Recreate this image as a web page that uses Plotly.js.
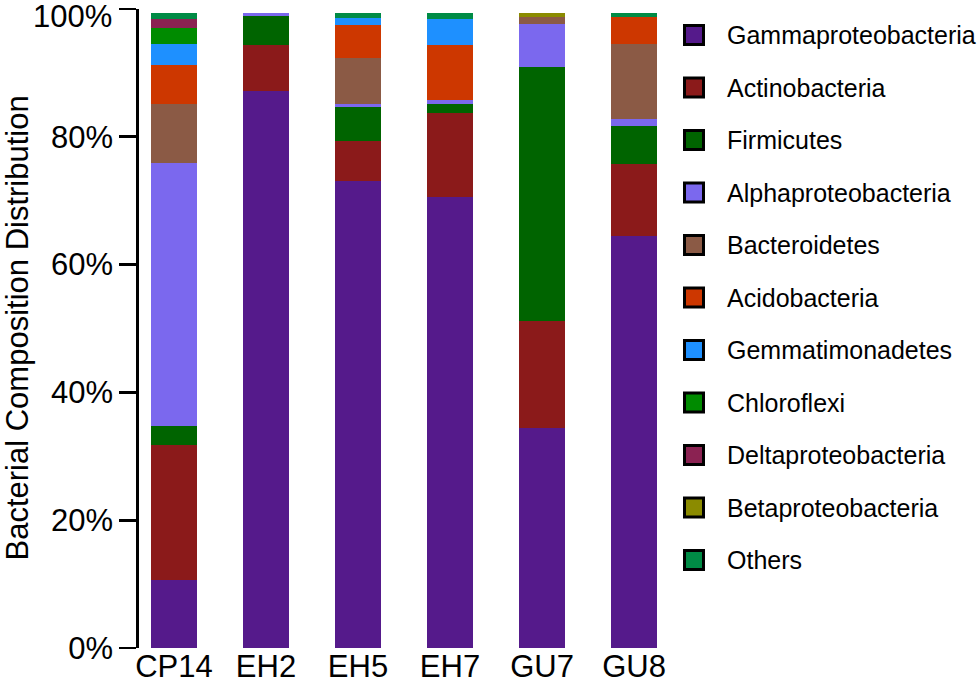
<!DOCTYPE html>
<html>
<head>
<meta charset="utf-8">
<script src="https://cdn.plot.ly/plotly-3.0.1.min.js"></script>
<style>
  html, body { margin: 0; padding: 0; background: #ffffff; }
  #chart { width: 980px; height: 688px; }
</style>
</head>
<body>
<div id="chart"></div>
<script>
// ---- data (percent of community) ----
var samples = ['CP14', 'EH2', 'EH5', 'EH7', 'GU7', 'GU8'];

var seriesNames = [
  'Gammaproteobacteria', 'Actinobacteria', 'Firmicutes', 'Alphaproteobacteria',
  'Bacteroidetes', 'Acidobacteria', 'Gemmatimonadetes', 'Chloroflexi',
  'Deltaproteobacteria', 'Betaproteobacteria', 'Others'
];

var gammaproteobacteria = [10.6, 87.1, 73.1, 70.6, 34.5, 64.5];
var actinobacteria      = [21.1,  7.3,  6.2, 13.2, 16.6, 11.2];
var firmicutes          = [ 3.0,  4.5,  5.3,  1.3, 39.8,  6.0];
var alphaproteobacteria = [41.2,  0.4,  0.5,  0.6,  6.8,  1.1];
var bacteroidetes       = [ 9.3,  0.0,  7.3,  0.0,  1.0, 11.7];
var acidobacteria       = [ 6.1,  0.0,  5.1,  8.7,  0.0,  4.2];
var gemmatimonadetes    = [ 3.3,  0.0,  1.1,  4.0,  0.0,  0.0];
var chloroflexi         = [ 2.5,  0.0,  0.0,  0.0,  0.0,  0.0];
var deltaproteobacteria = [ 1.4,  0.0,  0.0,  0.0,  0.0,  0.0];
var betaproteobacteria  = [ 0.0,  0.0,  0.0,  0.0,  0.6,  0.0];
var others              = [ 0.8,  0.0,  0.7,  0.9,  0.0,  0.6];

var yTickVals   = [0, 20, 40, 60, 80, 100];
var yTickLabels = ['0%', '20%', '40%', '60%', '80%', '100%'];
var yTitle = 'Bacterial Composition Distribution';

// ---- styling ----
var seriesColors = [
  '#551A8B', '#8B1A1A', '#006400', '#7B68EE', '#8B5A45', '#CD3700',
  '#1E90FF', '#008B00', '#8B2252', '#8B8B00', '#008B45'
];

var seriesValues = [
  gammaproteobacteria, actinobacteria, firmicutes, alphaproteobacteria,
  bacteroidetes, acidobacteria, gemmatimonadetes, chloroflexi,
  deltaproteobacteria, betaproteobacteria, others
];

var FONT = 'Liberation Sans, Arial, Helvetica, sans-serif';

var traces = seriesNames.map(function (name, i) {
  return {
    type: 'bar',
    name: name,
    x: samples,
    y: seriesValues[i],
    marker: { color: seriesColors[i], line: { width: 0 } },
    showlegend: false,
    hovertemplate: '%{x}<br>' + name + ': %{y}%<extra></extra>'
  };
});

// plot area in pixels
var W = 980, H = 688;
var mL = 139, mR = 311, mT = 9, mB = 40;
var plotW = W - mL - mR, plotH = H - mT - mB;
function px2paperX(px) { return (px - mL) / plotW; }
function px2paperY(py) { return (H - mB - py) / plotH; }

// custom legend (squares with black border + text)
var legendShapes = [], annots = [];
var legTop = 35, legStep = 52.5, legSqX = 694, legTxtX = 725;
seriesNames.forEach(function (name, i) {
  var cy = legTop + i * legStep;
  legendShapes.push({
    type: 'rect', xref: 'paper', yref: 'paper',
    xsizemode: 'pixel', ysizemode: 'pixel',
    xanchor: px2paperX(legSqX), yanchor: px2paperY(cy),
    x0: -9.5, x1: 9.5, y0: -9.5, y1: 9.5,
    line: { color: '#000000', width: 3 },
    fillcolor: seriesColors[i], layer: 'above'
  });
  annots.push({
    xref: 'paper', yref: 'paper',
    x: px2paperX(legTxtX), y: px2paperY(cy),
    xanchor: 'left', yanchor: 'middle',
    text: name, showarrow: false,
    font: { family: FONT, size: 25, color: '#000000' }
  });
});

// the top tick label sits just inside the figure edge (as in the reference)
var axisTickText = yTickLabels.slice(0, yTickLabels.length - 1).concat(['']);
annots.push({
  xref: 'paper', yref: 'paper',
  x: px2paperX(114), y: px2paperY(17),
  xanchor: 'right', yanchor: 'middle',
  text: yTickLabels[yTickLabels.length - 1], showarrow: false,
  font: { family: FONT, size: 31, color: '#000000' }
});

// y-axis title
annots.push({
  xref: 'paper', yref: 'paper',
  x: px2paperX(17), y: 0.5,
  xanchor: 'center', yanchor: 'middle',
  textangle: -90,
  text: yTitle, showarrow: false,
  font: { family: FONT, size: 31, color: '#000000' }
});

var layout = {
  width: W, height: H,
  margin: { l: mL, r: mR, t: mT, b: mB, pad: 0 },
  paper_bgcolor: '#ffffff',
  plot_bgcolor: '#ffffff',
  barmode: 'stack',
  bargap: 0.5,
  showlegend: false,
  font: { family: FONT, color: '#000000' },
  xaxis: {
    type: 'category',
    range: [-0.38, 5.38],
    showline: false, showgrid: false, zeroline: false,
    ticks: '',
    ticklabelstandoff: -3,
    tickfont: { family: FONT, size: 31, color: '#000000' },
    fixedrange: true
  },
  yaxis: {
    range: [0, 100],
    tickmode: 'array',
    tickvals: yTickVals,
    ticktext: axisTickText,
    showline: true, linecolor: '#000000', linewidth: 2.7,
    ticks: 'outside', ticklen: 17, tickwidth: 2.7, tickcolor: '#000000',
    showgrid: false, zeroline: false,
    tickfont: { family: FONT, size: 31, color: '#000000' },
    fixedrange: true
  },
  shapes: legendShapes,
  annotations: annots
};

Plotly.newPlot('chart', traces, layout, { displayModeBar: false, staticPlot: true });
</script>
</body>
</html>
